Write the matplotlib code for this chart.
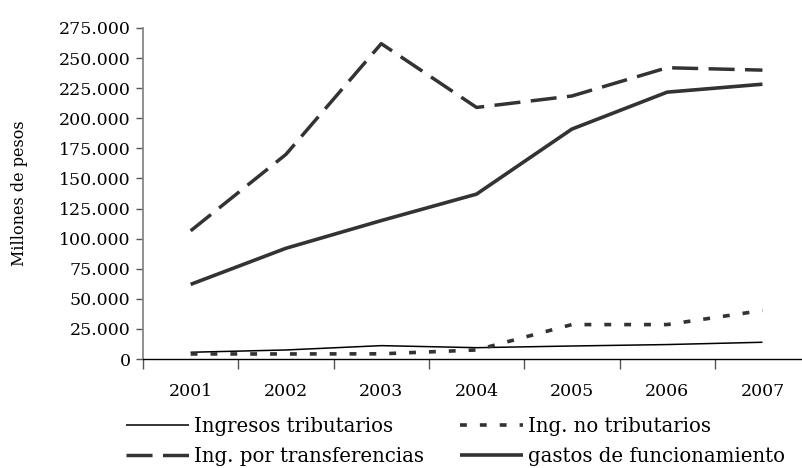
import matplotlib
matplotlib.use("Agg")
import matplotlib.pyplot as plt
from matplotlib.ticker import FuncFormatter, FixedLocator

years = ["2001", "2002", "2003", "2004", "2005", "2006", "2007"]
ing_tributarios = [5600, 7500, 11100, 9400, 10800, 12000, 13900]
ing_no_tributarios = [4200, 4200, 4300, 7500, 28600, 28600, 40300]
ing_transferencias = [106500, 170000, 262000, 209000, 218500, 242000, 240000]
gastos_funcionamiento = [62000, 92000, 115000, 137000, 191000, 221700, 228300]

plt.rcParams['font.family'] = ['DejaVu Serif']

fig = plt.figure(figsize=(8.02, 4.68), dpi=100)
ax = fig.add_axes([143/802, (468-359)/468, (802-143)/802, 331/468])

x = list(range(len(years)))
c = '#333333'
l1, = ax.plot(x, ing_tributarios, color='black', lw=1.1, solid_capstyle='butt')
l2, = ax.plot(x, ing_no_tributarios, color=c, lw=2.6, linestyle=(0, (1.9, 3.6)), dash_capstyle='butt')
l3, = ax.plot(x, ing_transferencias, color=c, lw=2.5, linestyle=(0, (7.5, 3.0)), dash_capstyle='butt')
l4, = ax.plot(x, gastos_funcionamiento, color=c, lw=2.6, solid_capstyle='butt')

ax.set_xlim(-0.5, 6.415)
ax.set_ylim(0, 275000)
ax.set_yticks(range(0, 275001, 25000))
ax.yaxis.set_major_formatter(FuncFormatter(lambda v, p: f"{int(v):,}".replace(",", ".")))
ax.tick_params(axis='y', length=5, width=1, labelsize=12.5, pad=4, color='#555555')

ax.xaxis.set_major_locator(FixedLocator([i - 0.5 for i in range(len(years))] + [6.5]))
ax.xaxis.set_major_formatter(FuncFormatter(lambda v, p: ""))
ax.set_xticks(x, minor=True)
ax.set_xticklabels(years, minor=True)
ax.tick_params(axis='x', which='major', length=7, width=1, color='#555555')
ax.tick_params(axis='x', which='minor', length=0, labelsize=12.5, pad=17)

for s in ['top', 'right']:
    ax.spines[s].set_visible(False)
ax.spines['left'].set_color('#888888')
ax.spines['left'].set_linewidth(1.3)
ax.spines['bottom'].set_color('black')
ax.spines['bottom'].set_linewidth(1.0)

ax.set_ylabel("Millones de pesos", fontsize=11.5)
ax.yaxis.set_label_coords(-0.1745, 0.5)

common = dict(frameon=False, fontsize=14.2, handlelength=3.2, handletextpad=0.25,
              labelspacing=0.55, borderpad=0.0, borderaxespad=0.0, loc='upper left')
fig.legend([l1, l3], ["Ingresos tributarios", "Ing. por transferencias"],
           bbox_to_anchor=(126/802, 1 - 417/468), **common)
fig.legend([l2, l4], ["Ing. no tributarios", "gastos de funcionamiento"],
           bbox_to_anchor=(460/802, 1 - 417/468), **common)

fig.savefig("out.png", dpi=100)
